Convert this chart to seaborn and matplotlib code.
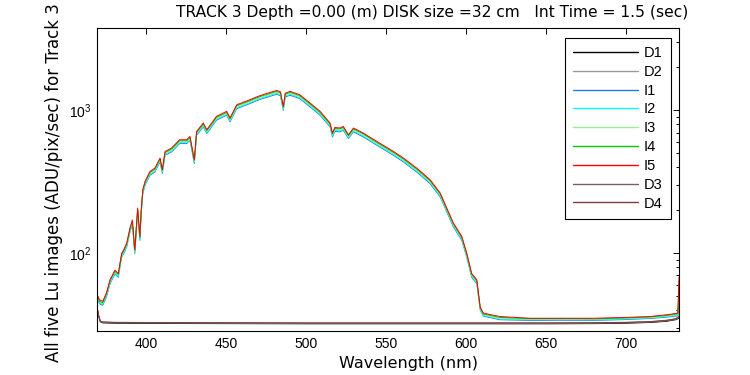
import matplotlib
matplotlib.use("Agg")
import matplotlib.pyplot as plt
import seaborn as sns
import pandas as pd
from matplotlib.ticker import LogLocator, FixedLocator

# ---------------- data ----------------
wl_light = [370, 371, 373, 375.4, 377.5, 379, 380.6, 382.7, 384.8, 386,
            388, 390, 391.5, 393, 394.8, 396.2, 397, 398, 399.4, 402.5,
            405.6, 408.8, 410.2, 411.9, 416, 421, 425.4, 427.5, 430.2, 431.6,
            435.8, 438, 444, 450.4, 452.5, 456.7, 465, 471, 477.5, 481.7,
            484, 485.8, 487, 490, 496, 502.5, 508.8, 515, 516.5, 518,
            521, 523.3, 526.5, 529.6, 535.8, 544.2, 554.6, 560.8, 569.2, 577.5,
            583.8, 587.9, 592, 597.3, 600.4, 603.5, 606.7, 608.8, 610.8, 621,
            640, 660, 680, 700, 715, 725, 732.3, 733]

I5 = [50, 47, 46, 53, 65, 70, 76, 72, 100, 105,
      118, 150, 171, 106, 207, 131, 200, 278, 318, 374,
      395, 464, 385, 516, 545, 623, 623, 657, 452, 712,
      816, 733, 908, 985, 885, 1096, 1189, 1268, 1337, 1380,
      1350, 1067, 1320, 1360, 1289, 1127, 984, 816, 694, 760,
      753, 772, 675, 753, 694, 607, 516, 464, 394, 327,
      264, 207, 163, 131, 100, 72, 65, 42, 38, 36,
      35, 35, 35, 35.5, 36, 37, 38, 68]
I4 = [49, 46, 45, 52, 64, 69, 75, 71, 98, 103,
      116, 148, 168, 104, 204, 129, 197, 274, 313, 368,
      389, 457, 379, 508, 537, 614, 614, 647, 445, 701,
      804, 722, 894, 970, 872, 1080, 1171, 1249, 1317, 1359,
      1330, 1051, 1300, 1340, 1270, 1110, 969, 804, 684, 749,
      742, 760, 665, 742, 684, 598, 508, 457, 388, 322,
      260, 204, 161, 129, 98.5, 71, 64, 41.5, 37.5, 35.5,
      34.8, 34.9, 34.7, 35.2, 35.8, 36.6, 37.6, 64]
I3 = [48.5, 45.5, 44.6, 51.4, 63, 68, 74, 70, 97, 102,
      114, 146, 166, 103, 201, 127, 194, 270, 308, 363,
      383, 450, 373, 501, 529, 604, 604, 637, 438, 691,
      792, 711, 881, 955, 858, 1063, 1153, 1230, 1297, 1339,
      1310, 1035, 1280, 1319, 1250, 1093, 954, 792, 673, 737,
      730, 749, 655, 730, 673, 589, 501, 450, 382, 317,
      256, 201, 158, 127, 97, 70, 63, 41, 37, 35,
      34.5, 34.6, 34.5, 35, 35.5, 36.3, 37.2, 56]
I2 = [47.8, 44.9, 43.9, 50.6, 62, 66.9, 72.6, 68.8, 95.5, 100,
      113, 143, 163, 101, 198, 125, 191, 265, 304, 357,
      377, 443, 368, 493, 520, 595, 595, 627, 432, 680,
      779, 700, 867, 941, 845, 1047, 1135, 1211, 1277, 1318,
      1289, 1019, 1261, 1299, 1231, 1076, 940, 779, 663, 726,
      719, 737, 645, 719, 663, 580, 493, 443, 376, 312,
      252, 198, 156, 125, 95.5, 68.8, 62, 40.5, 36.6, 34.6,
      34.2, 34.3, 34.1, 34.6, 35.2, 35.9, 36.8, 50]
I1 = [47, 44.2, 43.2, 49.8, 61, 65.8, 71.4, 67.7, 94, 98.7,
      111, 141, 161, 99.6, 195, 123, 188, 261, 299, 352,
      371, 436, 362, 485, 512, 586, 586, 618, 425, 669,
      767, 689, 854, 926, 832, 1030, 1118, 1192, 1257, 1297,
      1269, 1003, 1241, 1278, 1212, 1059, 925, 767, 652, 714,
      708, 726, 635, 708, 652, 571, 485, 436, 370, 307,
      248, 195, 153, 123, 94, 67.7, 61, 40, 36.2, 34.2,
      33.8, 33.9, 33.8, 34.3, 34.9, 35.6, 36.4, 45]

wl_dark = [369.5, 370.5, 371.5, 373, 380, 400, 450, 500, 550, 600,
           650, 680, 700, 715, 725, 731, 733]
D1 = [41, 36, 33, 32.5, 32.3, 32.2, 32.1, 32.0, 32.0, 32.0,
      32.0, 32.1, 32.3, 32.7, 33.3, 34.2, 35]
D2 = [40, 35.5, 33.2, 32.8, 32.6, 32.5, 32.4, 32.3, 32.3, 32.3,
      32.3, 32.4, 32.6, 33.0, 33.6, 34.5, 35.5]
D3 = [42, 36.5, 33.5, 33, 32.8, 32.7, 32.6, 32.5, 32.5, 32.5,
      32.5, 32.6, 32.8, 33.2, 33.9, 34.8, 36]
D4 = [41.5, 36, 33.3, 32.9, 32.7, 32.6, 32.5, 32.4, 32.4, 32.4,
      32.4, 32.5, 32.7, 33.1, 33.7, 34.6, 36]

series_order = ["D1", "D2", "I1", "I2", "I3", "I4", "I5", "D3", "D4"]
series_colors = ["#000000", "#999999", "#1a7fe6", "#00ffff", "#99ee99",
                 "#00c800", "#ff0000", "#805c5c", "#803c3c"]
xticks = [400, 450, 500, 550, 600, 650, 700]
title_text = "TRACK 3 Depth =0.00 (m) DISK size =32 cm   Int Time = 1.5 (sec)"
xlabel_text = "Wavelength (nm)"
ylabel_text = "All five Lu images (ADU/pix/sec) for Track 3"

# ---------------- build long table ----------------
series_data = {"D1": (wl_dark, D1), "D2": (wl_dark, D2), "I1": (wl_light, I1),
               "I2": (wl_light, I2), "I3": (wl_light, I3), "I4": (wl_light, I4),
               "I5": (wl_light, I5), "D3": (wl_dark, D3), "D4": (wl_dark, D4)}
rows = []
for name in series_order:
    xs, ys = series_data[name]
    for x, y in zip(xs, ys):
        rows.append((name, x, y))
df = pd.DataFrame(rows, columns=["Series", "Wavelength", "Value"])

# ---------------- plot ----------------
sns.set_style("white")
plt.rcParams["font.family"] = ["Liberation Sans", "DejaVu Sans"]
plt.rcParams["mathtext.default"] = "regular"
plt.rcParams["mathtext.fontset"] = "custom"
plt.rcParams["mathtext.rm"] = "Liberation Sans"
plt.rcParams["text.color"] = "black"
plt.rcParams["axes.labelcolor"] = "black"
plt.rcParams["xtick.color"] = "black"
plt.rcParams["ytick.color"] = "black"

fig = plt.figure(figsize=(7.5, 3.75), dpi=100)
ax = fig.add_axes([97 / 750, 1 - 331 / 375, 582 / 750, 303 / 375])

sns.lineplot(data=df, x="Wavelength", y="Value", hue="Series",
             hue_order=series_order, palette=series_colors,
             estimator=None, sort=False, linewidth=0.7, ax=ax)

ax.set_yscale("log")
ax.set_xlim(369.4, 733)
ax.set_ylim(28.5, 3780)
ax.xaxis.set_major_locator(FixedLocator(xticks))
ax.yaxis.set_major_locator(LogLocator(base=10))
ax.yaxis.set_minor_locator(LogLocator(base=10, subs=range(2, 10)))

for sp in ax.spines.values():
    sp.set_color("black")
    sp.set_linewidth(0.8)
ax.tick_params(which="both", direction="in", top=True, right=True,
               colors="black", labelsize=10, width=0.7)
ax.tick_params(which="major", length=4.2, pad=4)
ax.tick_params(which="minor", length=2.1)

ax.set_xlabel(xlabel_text, fontsize=11.5, family="DejaVu Sans", color="black")
ax.set_ylabel(ylabel_text, fontsize=12, family="DejaVu Sans", color="black")
ax.xaxis.set_label_coords(0.535, -0.083)
ax.yaxis.set_label_coords(-0.058, 0.49)

fig.text(176 / 750, 1 - 12 / 375, title_text, ha="left", va="center",
         fontsize=11.2, family="DejaVu Sans", color="black")

old = ax.get_legend()
handles = old.legend_handles
labels = [t.get_text() for t in old.get_texts()]
old.remove()
leg = ax.legend(handles, labels, loc="upper right",
                bbox_to_anchor=(0.986, 0.967), borderaxespad=0,
                fancybox=False, edgecolor="black", framealpha=1,
                handlelength=4.4, handletextpad=0.45, labelspacing=0.33,
                borderpad=0.55, fontsize=10.5)
leg.get_frame().set_linewidth(0.8)
for t in leg.get_texts():
    t.set_color("black")
for h in leg.legend_handles:
    h.set_linewidth(1.0)

fig.savefig("out.png", dpi=100)
